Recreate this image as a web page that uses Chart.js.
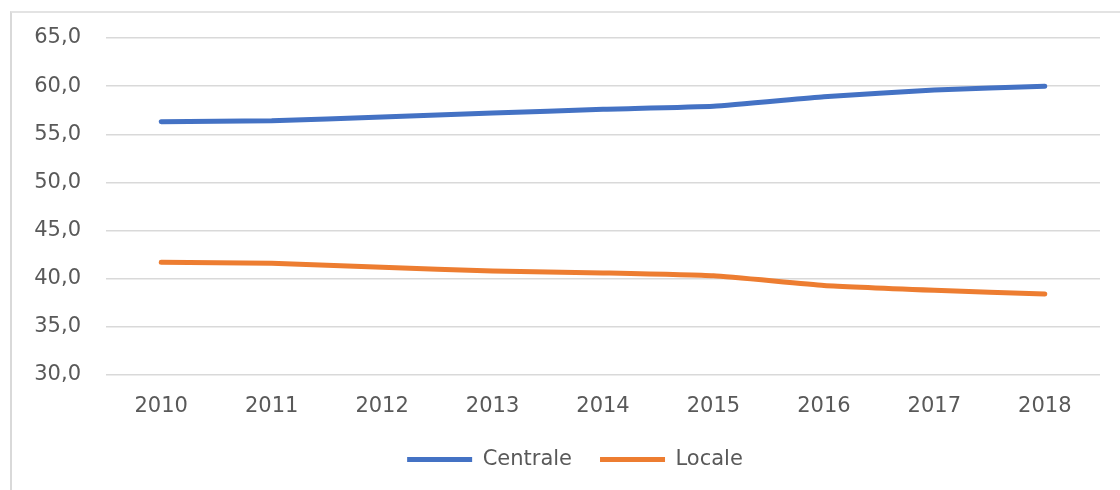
<!DOCTYPE html>
<html>
<head>
<meta charset="utf-8">
<script src="https://cdn.jsdelivr.net/npm/chart.js@4"></script>
<style>
  html, body { margin: 0; padding: 0; background: #fff; }
  #wrap { position: relative; width: 1120px; height: 490px; overflow: hidden; }
  #frame { position: absolute; left: 10px; top: 11px; width: 1200px; height: 600px;
           border-left: 2px solid #d9d9d9; border-top: 2px solid #e3e3e3; box-sizing: border-box; }
  canvas { position: absolute; left: 0; top: 0; }
</style>
</head>
<body>
<div id="wrap">
  <div id="frame"></div>
  <canvas id="chart" width="1120" height="490"></canvas>
</div>
<script>
// Years on the horizontal axis
const years = ['2010', '2011', '2012', '2013', '2014', '2015', '2016', '2017', '2018'];
// Share values per series
const centrale = [56.3, 56.4, 56.8, 57.2, 57.6, 57.9, 58.9, 59.6, 60.0];
const locale = [41.7, 41.6, 41.2, 40.8, 40.6, 40.3, 39.3, 38.8, 38.4];
// Vertical axis range and step
const yMin = 30;
const yMax = 65;
const yStep = 5;

const FONT = { family: '"DejaVu Sans", sans-serif', size: 21 };
const TEXT = '#595959';
const GRID = '#d9d9d9';

function fmt(v) {
  return v.toFixed(1).replace('.', ',');
}

// Centre the legend under the plot area rather than the whole canvas
const legendShift = {
  id: 'legendShift',
  afterLayout(chart) {
    if (chart.legend) {
      chart.legend.left += 50;
    }
  }
};

new Chart(document.getElementById('chart'), {
  type: 'line',
  data: {
    labels: years,
    datasets: [
      {
        label: 'Centrale',
        data: centrale,
        borderColor: '#4472C4',
        backgroundColor: '#4472C4',
        borderWidth: 5,
        borderCapStyle: 'round',
        borderJoinStyle: 'round',
        pointRadius: 0,
        tension: 0.15
      },
      {
        label: 'Locale',
        data: locale,
        borderColor: '#ED7D31',
        backgroundColor: '#ED7D31',
        borderWidth: 5,
        borderCapStyle: 'round',
        borderJoinStyle: 'round',
        pointRadius: 0,
        tension: 0.15
      }
    ]
  },
  plugins: [legendShift],
  options: {
    responsive: false,
    animation: false,
    devicePixelRatio: 1,
    layout: { padding: { left: 0, right: 20, top: 38, bottom: 10 } },
    plugins: {
      tooltip: { enabled: false },
      legend: {
        position: 'bottom',
        labels: {
          font: FONT,
          color: TEXT,
          usePointStyle: true,
          pointStyle: 'line',
          pointStyleWidth: 65,
          boxHeight: 5,
          padding: 28
        }
      }
    },
    scales: {
      x: {
        offset: true,
        grid: { display: false, drawTicks: false },
        border: { display: false },
        ticks: { font: FONT, color: TEXT, padding: 19, maxRotation: 0 },
        afterFit(scale) { scale.height = 46; }
      },
      y: {
        min: yMin,
        max: yMax,
        grid: { color: GRID, lineWidth: 1.4, drawTicks: false },
        border: { display: false },
        ticks: {
          stepSize: yStep,
          font: FONT,
          color: TEXT,
          padding: 25,
          callback: (v) => fmt(v)
        },
        afterFit(scale) { scale.width = 106; }
      }
    }
  }
});
</script>
</body>
</html>
